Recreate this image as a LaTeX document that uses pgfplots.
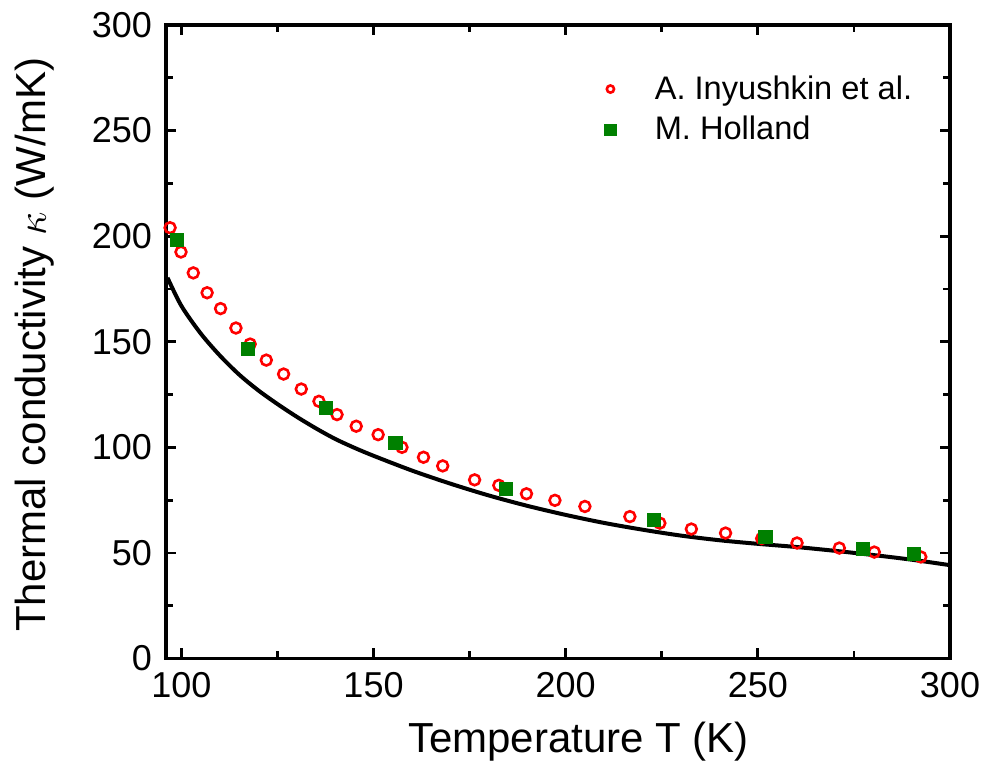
\documentclass[border=0pt]{standalone}
\usepackage{fontspec}
\setmainfont{Liberation Sans}
\usepackage{pgfplots}
\pgfplotsset{compat=1.18}
\definecolor{dgreen}{RGB}{0,128,0}
\begin{document}
\begin{tikzpicture}
\begin{axis}[
 at={(0,0)}, anchor=south west,
 width=392pt, height=316.75pt, scale only axis,
 xmin=96, xmax=300, ymin=0, ymax=300,
 xtick={100,150,...,300}, ytick={0,50,...,300},
 minor x tick num=1, minor y tick num=1,
 tick align=inside,
 major tick length=5pt, minor tick length=3.5pt,
 every tick/.style={black, line width=1.4pt},
 axis line style={line width=1.8pt},
 /pgf/number format/assume math mode=true,
 tick label style={font=\fontsize{18}{18}\selectfont},
 xticklabel style={yshift=-3.5pt},
 yticklabel style={xshift=-3.5pt},
 xlabel={Temperature T (K)},
 ylabel={Thermal conductivity $\kappa$ (W/mK)},
 label style={font=\fontsize{21}{21}\selectfont},
 xlabel style={at={(axis description cs:0.526,-0.132)}, anchor=center},
 ylabel style={at={(axis description cs:-0.167,0.495)}, anchor=center},
 legend image code/.code={\path (-4pt,0pt) (20pt,0pt); \draw plot coordinates {(0pt,0pt)};},
 legend style={draw=none, fill=none, at={(axis description cs:0.548,0.93)}, anchor=north west,
   font=\fontsize{16.3}{18}\selectfont, row sep=5pt, nodes={inner ysep=1pt}},
 legend cell align=left,
 clip=false,
]
\addplot[only marks, mark=o, mark size=2.7pt, mark options={red, line width=1.3pt},
  legend image post style={mark size=1.8pt}] coordinates {
(97.06,204.0) (99.9,192.5) (103.1,182.6) (106.7,173.2) (110.2,165.7) (114.2,156.5)
(117.9,148.9) (122.1,141.3) (126.6,134.7) (131.2,127.6) (135.8,121.8) (140.5,115.5)
(145.5,110.0) (151.2,106.0) (157.4,100.0) (163.0,95.3) (168.0,91.2) (176.3,84.6)
(182.6,82.0) (189.8,78.0) (197.2,74.9) (205.0,72.0) (216.7,67.2) (224.5,64.1)
(232.7,61.3) (241.6,59.4) (251.0,56.8) (260.2,54.7) (271.2,52.3) (280.3,50.4)
(292.4,48.1)
};
\addlegendentry{A. Inyushkin et al.}
\addplot[only marks, mark=square*, mark size=3.3pt, mark options={dgreen, fill=dgreen, line width=0pt},
  legend image post style={mark size=2.8pt}] coordinates {
(98.8,198.0) (117.4,146.5) (137.7,118.5) (155.7,101.9) (184.4,80.4) (222.9,65.4)
(252.0,57.5) (277.3,51.7) (290.7,49.4)
};
\addlegendentry{M. Holland}
\addplot[black, line width=2pt, smooth, forget plot] coordinates {
(96.4,180.3) (100,167) (105,154) (110,143.5) (115,134.5) (120,127) (125,120.5)
(130,114.5) (135,109) (140,104) (145,99.8) (150,96) (160,89) (170,82.8)
(180,77.2) (190,72.3) (200,68) (210,64.2) (220,61) (230,58.2) (240,56)
(250,54.3) (260,52.8) (270,51) (280,49) (290,46.8) (300,44.2)
};
\end{axis}
\pgfresetboundingbox
\path (-83pt,-56.25pt) rectangle (410pt,329.25pt);
\end{tikzpicture}
\end{document}
